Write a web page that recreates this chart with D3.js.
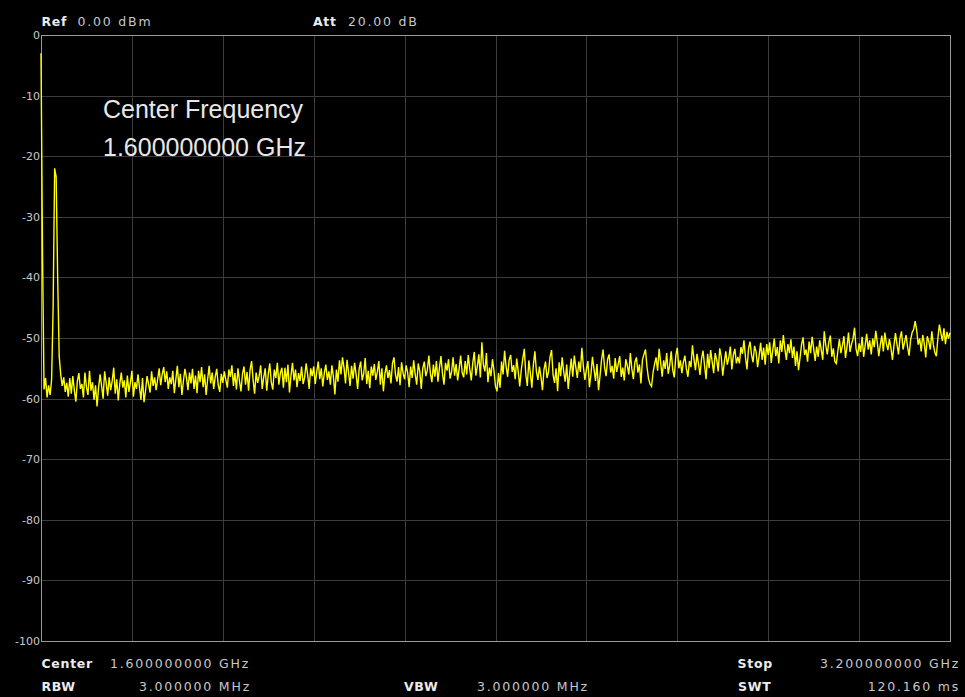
<!DOCTYPE html>
<html>
<head>
<meta charset="utf-8">
<script src="https://cdn.jsdelivr.net/npm/d3@7"></script>
<style>
  html, body { margin: 0; padding: 0; background: #000; }
  svg { display: block; }
</style>
</head>
<body>
<svg id="canvas" width="965" height="697"></svg>
<script>
// sweep settings (GHz)
let startFreq = 0;
let stopFreq = 3.2;

// trace levels in dBm, one per sweep point (601 points)
let levels = [
  -3.0, -36.0, -58.5, -56.6, -59.8, -57.8, -59.4, -56.9, -45.0, -22.0, -23.4, -40.0, -53.0, -56.0, -57.9, -56.5, -58.9, -57.4, -59.7, -56.6,
  -59.2, -56.3, -58.6, -60.5, -57.1, -55.8, -58.4, -57.6, -59.8, -55.7, -58.1, -59.4, -55.4, -58.7, -57.3, -60.2, -57.8, -61.3, -58.2, -56.0,
  -57.9, -60.0, -55.5, -57.4, -59.5, -56.5, -58.6, -57.1, -54.9, -59.2, -56.8, -60.3, -57.6, -55.7, -58.2, -57.0, -59.8, -56.2, -58.9, -57.4,
  -55.4, -59.7, -57.3, -58.4, -56.0, -58.1, -60.2, -56.6, -60.6, -58.7, -56.3, -57.6, -59.0, -55.5, -57.9, -56.5, -58.6, -56.8, -55.0, -57.8,
  -56.0, -54.8, -57.3, -55.5, -58.4, -56.5, -57.6, -55.4, -59.1, -56.8, -54.6, -58.1, -55.9, -59.4, -57.1, -55.1, -56.5, -58.6, -55.7, -57.5,
  -55.1, -58.4, -56.2, -59.1, -55.4, -57.3, -54.8, -58.1, -56.0, -59.4, -56.8, -54.6, -57.5, -55.7, -58.4, -56.4, -55.1, -57.8, -58.9, -55.9,
  -57.4, -55.5, -56.9, -58.2, -55.2, -56.4, -54.5, -57.9, -55.8, -58.5, -55.0, -57.1, -58.8, -55.9, -54.7, -57.7, -55.6, -58.7, -55.3, -53.8,
  -56.9, -59.2, -55.7, -57.4, -56.3, -54.5, -58.4, -56.5, -55.0, -58.7, -56.0, -54.2, -57.3, -58.5, -55.2, -56.6, -54.1, -57.7, -55.8, -54.9,
  -58.2, -54.9, -57.3, -54.4, -59.0, -56.2, -54.1, -57.0, -55.2, -58.1, -55.8, -57.1, -54.7, -57.6, -56.5, -54.2, -56.0, -58.4, -55.0, -56.3,
  -54.7, -57.6, -55.6, -53.9, -56.8, -55.0, -58.0, -55.8, -54.4, -56.9, -55.5, -57.7, -54.5, -56.4, -59.3, -55.2, -57.2, -53.7, -56.0, -53.2,
  -54.9, -57.5, -53.6, -55.7, -57.9, -54.6, -56.7, -54.1, -56.0, -58.4, -55.1, -53.9, -57.0, -55.9, -53.3, -57.6, -55.4, -58.3, -54.7, -56.2,
  -54.3, -56.9, -55.6, -53.8, -57.7, -55.0, -58.8, -55.9, -54.5, -56.6, -55.3, -57.5, -54.2, -53.2, -56.1, -57.2, -54.8, -57.8, -54.0, -55.8,
  -56.8, -54.5, -55.7, -58.1, -54.7, -56.6, -53.7, -56.0, -57.7, -54.2, -55.5, -58.4, -55.0, -53.9, -56.3, -55.3, -52.9, -55.8, -57.3, -54.4,
  -56.4, -53.8, -57.2, -54.9, -53.0, -55.9, -57.7, -54.1, -55.4, -53.5, -56.7, -55.6, -53.2, -56.2, -54.3, -57.0, -55.1, -52.9, -55.7, -56.5,
  -53.8, -56.0, -52.8, -55.1, -57.0, -54.1, -52.3, -56.2, -54.7, -52.7, -56.5, -50.7, -54.4, -55.5, -52.5, -57.3, -54.9, -56.3, -53.5, -55.4,
  -58.0, -58.8, -55.8, -58.2, -53.9, -56.0, -52.1, -54.7, -56.4, -53.6, -52.8, -55.6, -54.5, -56.8, -53.4, -55.5, -58.0, -55.3, -53.4, -51.8,
  -56.0, -57.9, -53.7, -55.8, -58.2, -54.4, -52.2, -55.5, -56.9, -54.7, -56.4, -58.6, -55.2, -53.9, -56.6, -55.6, -53.1, -52.0, -56.1, -57.4,
  -55.0, -58.8, -54.0, -56.3, -53.2, -55.5, -57.2, -54.4, -58.4, -55.8, -53.4, -56.4, -52.9, -54.8, -56.6, -53.9, -55.6, -51.6, -54.7, -56.9,
  -55.2, -53.8, -58.1, -56.0, -53.1, -55.1, -57.1, -54.3, -58.6, -56.2, -53.6, -51.9, -54.9, -56.3, -53.5, -52.7, -55.7, -54.6, -56.7, -53.3,
  -55.6, -54.3, -53.0, -56.4, -54.9, -57.0, -53.5, -54.6, -56.0, -52.5, -55.1, -56.8, -54.0, -53.2, -55.7, -54.4, -57.5, -53.6, -52.7, -51.9,
  -54.8, -56.7, -57.6, -58.0, -55.7, -54.3, -53.2, -55.4, -51.8, -54.0, -56.4, -53.7, -55.1, -52.5, -55.9, -54.5, -52.2, -55.3, -56.5, -53.0,
  -51.6, -55.0, -53.7, -55.8, -54.0, -52.9, -55.1, -56.4, -53.8, -54.8, -51.2, -53.5, -55.3, -52.6, -54.3, -56.1, -53.4, -52.1, -54.6, -56.8,
  -52.6, -55.0, -52.0, -53.9, -55.8, -52.5, -53.6, -55.5, -51.7, -53.1, -56.2, -54.1, -52.2, -54.4, -53.3, -51.4, -55.2, -52.8, -51.8, -54.2,
  -53.1, -54.2, -51.5, -52.6, -50.4, -53.2, -55.2, -51.8, -50.6, -52.8, -54.0, -51.3, -52.3, -54.8, -52.9, -50.8, -53.6, -51.6, -54.4, -51.0,
  -52.8, -50.7, -54.1, -52.0, -50.1, -53.0, -51.5, -54.2, -50.4, -52.3, -49.5, -51.8, -53.6, -51.0, -52.5, -50.2, -53.3, -51.4, -54.6, -52.2,
  -55.3, -53.3, -51.1, -49.9, -52.8, -51.9, -53.9, -50.6, -52.5, -49.8, -51.7, -53.8, -51.4, -53.1, -50.4, -51.9, -53.6, -48.9, -51.2, -52.7,
  -50.7, -49.6, -53.1, -51.7, -53.9, -54.2, -52.1, -50.2, -52.5, -51.2, -49.7, -53.3, -51.5, -49.1, -52.3, -51.0, -50.1, -48.3, -51.8, -53.0,
  -50.9, -52.3, -49.8, -53.1, -51.2, -49.3, -51.9, -50.4, -52.7, -50.1, -51.5, -48.8, -50.7, -53.0, -51.1, -49.6, -52.2, -49.1, -50.9, -52.0,
  -50.2, -51.6, -53.6, -51.3, -49.2, -51.0, -52.7, -50.0, -48.9, -51.9, -50.7, -49.5, -51.5, -52.9, -50.3, -49.1, -48.6, -47.2, -48.7, -51.1,
  -50.1, -52.2, -49.5, -50.9, -53.2, -49.7, -50.6, -51.9, -48.9, -51.1, -52.4, -53.0, -50.0, -47.8, -49.2, -50.5, -48.4, -51.0, -49.0, -50.1, -49.1
];

// amplitude scale labels (dBm)
let yTicks = [0, -10, -20, -30, -40, -50, -60, -70, -80, -90, -100];
let xDivisions = 10;

// instrument readouts
let headerItems = [
  {key: 'Ref', value: '0.00 dBm'},
  {key: 'Att', value: '20.00 dB'}
];
let footerItems = [
  {key: 'Center', value: '1.600000000 GHz'},
  {key: 'RBW', value: '3.000000 MHz'},
  {key: 'VBW', value: '3.000000 MHz'},
  {key: 'Stop', value: '3.200000000 GHz'},
  {key: 'SWT', value: '120.160 ms'}
];
let noteLines = ['Center Frequency', '1.600000000 GHz'];

let canvas = d3.select('#canvas');

let plotLeft = 41, plotRight = 950, plotTop = 35, plotBottom = 641;

let xScale = d3.scaleLinear()
  .domain([startFreq, stopFreq])
  .range([plotLeft, plotRight]);

let yScale = d3.scaleLinear()
  .domain([-100, 0])
  .range([plotBottom, plotTop]);

let step = (stopFreq - startFreq) / (levels.length - 1);
let trace = levels.map((v, i) => ({f: startFreq + i * step, v: v}));

// grid
let xGrid = d3.range(1, xDivisions).map(k => startFreq + k * (stopFreq - startFreq) / xDivisions);

canvas.append('g')
  .selectAll('line')
  .data(xGrid)
  .enter()
  .append('line')
  .attr('x1', d => Math.round(xScale(d)) + 0.5)
  .attr('x2', d => Math.round(xScale(d)) + 0.5)
  .attr('y1', plotTop)
  .attr('y2', plotBottom)
  .attr('stroke', '#3c3c3c');

canvas.append('g')
  .selectAll('line')
  .data(yTicks.slice(1, -1))
  .enter()
  .append('line')
  .attr('x1', plotLeft)
  .attr('x2', plotRight)
  .attr('y1', d => Math.round(yScale(d)) + 0.5)
  .attr('y2', d => Math.round(yScale(d)) + 0.5)
  .attr('stroke', '#3c3c3c');

// y labels via axis
let yAxis = d3.axisLeft(yScale)
  .tickValues(yTicks)
  .tickSize(0)
  .tickPadding(1)
  .tickFormat(d => String(d));

let yg = canvas.append('g')
  .attr('transform', 'translate(' + plotLeft + ',0)')
  .call(yAxis);
yg.select('.domain').remove();
yg.selectAll('text')
  .attr('fill', '#c8c8c8')
  .style('font-family', 'DejaVu Sans')
  .style('font-size', '11px');

// frame
canvas.append('rect')
  .attr('x', plotLeft + 0.5)
  .attr('y', plotTop + 0.5)
  .attr('width', plotRight - plotLeft)
  .attr('height', plotBottom - plotTop)
  .attr('fill', 'none')
  .attr('stroke', '#9a9a9a');

// trace
let line = d3.line()
  .x(d => xScale(d.f))
  .y(d => yScale(d.v));

canvas.append('path')
  .datum(trace)
  .attr('d', line)
  .attr('fill', 'none')
  .attr('stroke', '#ffff00')
  .attr('stroke-width', 1.4)
  .attr('stroke-linejoin', 'miter');

// readouts
let readout = (item, kx, vx, y, anchor) => {
  canvas.append('text')
    .attr('x', kx).attr('y', y)
    .attr('fill', '#ececec')
    .style('font-family', 'DejaVu Sans')
    .style('font-weight', 'bold')
    .style('font-size', '12.5px')
    .style('letter-spacing', '0.7px')
    .text(item.key);
  canvas.append('text')
    .attr('x', vx).attr('y', y)
    .attr('text-anchor', anchor)
    .attr('fill', '#c8c8c8')
    .style('font-family', 'DejaVu Sans')
    .style('font-size', '12.5px')
    .style('letter-spacing', '1.8px')
    .text(item.value);
};

readout(headerItems[0], 41.5, 77.5, 26, 'start');
readout(headerItems[1], 313, 348, 26, 'start');
readout(footerItems[0], 41.5, 110, 668, 'start');
readout(footerItems[1], 41.5, 251, 690.5, 'end');
readout(footerItems[2], 404, 477, 690.5, 'start');
readout(footerItems[3], 737.5, 960, 668, 'end');
readout(footerItems[4], 738, 960, 690.5, 'end');

// annotation
canvas.selectAll('.note')
  .data(noteLines)
  .enter()
  .append('text')
  .attr('class', 'note')
  .attr('x', 103)
  .attr('y', (d, i) => 118 + i * 38)
  .attr('fill', '#e8e8e8')
  .style('font-family', 'Liberation Sans')
  .style('font-size', '25px')
  .text(d => d);
</script>
</body>
</html>
